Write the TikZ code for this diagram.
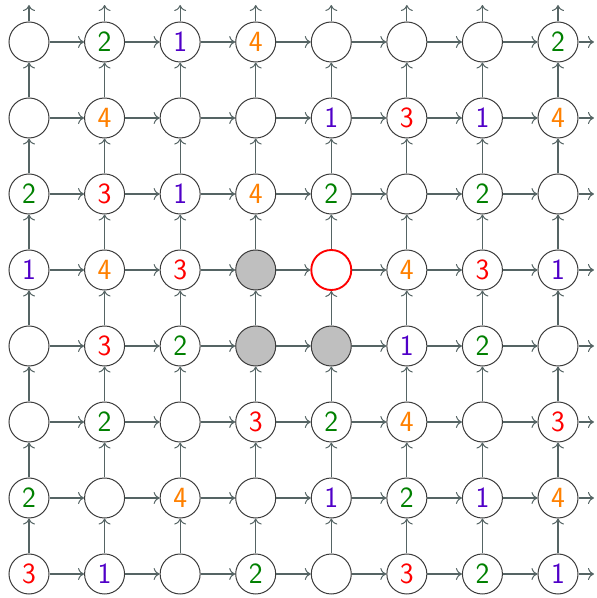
\documentclass[tikz,border=0pt]{standalone}
\usetikzlibrary{arrows.meta}
\definecolor{cviolet}{RGB}{80,0,200}
\definecolor{corange}{RGB}{255,128,0}
\definecolor{cgreen}{RGB}{0,128,0}
\definecolor{cred}{RGB}{255,0,0}
\definecolor{edgecol}{RGB}{85,100,100}
\definecolor{ringcol}{RGB}{60,60,60}
\tikzset{
  cell/.style={circle,draw=ringcol,line width=0.75pt,minimum size=30pt,inner sep=0pt,
    font=\sffamily\fontsize{22}{24}\selectfont},
  le/.style={},
  lg/.style={text=cgreen},
  lv/.style={text=cviolet},
  lo/.style={text=corange},
  lr/.style={text=cred},
  lgray/.style={fill=black!25},
  lred/.style={draw=red,line width=1.4pt},
  link/.style={draw=edgecol,line width=0.9pt,-{To[length=4.5pt,width=9pt,line width=0.75pt]}},
}
\begin{document}
\begin{tikzpicture}[x=0.75pt,y=0.75pt]
\useasboundingbox (0,0) rectangle (596,598);
\foreach \row [count=\r from 0] in {
 {le/,lg/2,lv/1,lo/4,le/,le/,le/,lg/2},
 {le/,lo/4,le/,le/,lv/1,lr/3,lv/1,lo/4},
 {lg/2,lr/3,lv/1,lo/4,lg/2,le/,lg/2,le/},
 {lv/1,lo/4,lr/3,lgray/,lred/,lo/4,lr/3,lv/1},
 {le/,lr/3,lg/2,lgray/,lgray/,lv/1,lg/2,le/},
 {le/,lg/2,le/,lr/3,lg/2,lo/4,le/,lr/3},
 {lg/2,le/,lo/4,le/,lv/1,lg/2,lv/1,lo/4},
 {lr/3,lv/1,le/,lg/2,le/,lr/3,lg/2,lv/1}}{
  \foreach \st/\t [count=\c from 0] in \row {
    \node[cell,\st] (n\r-\c) at ({29+75.57*\c},{598-(42+76*\r)}) {\t};
  }
}
\foreach \r in {0,...,7}{
  \foreach \c in {0,...,7}{
    \pgfmathtruncatemacro{\cn}{\c+1}
    \pgfmathtruncatemacro{\ru}{\r-1}
    \ifnum\c<7
      \draw[link] (n\r-\c) -- (n\r-\cn);
    \else
      \coordinate (re\r) at ({29+75.57*7+36},{598-(42+76*\r)});
      \draw[link] (n\r-\c) -- (re\r);
    \fi
    \ifnum\r>0
      \draw[link] (n\r-\c) -- (n\ru-\c);
    \else
      \coordinate (te\c) at ({29+75.57*\c},{593});
      \draw[link] (n\r-\c) -- (te\c);
    \fi
  }
}
\end{tikzpicture}
\end{document}
